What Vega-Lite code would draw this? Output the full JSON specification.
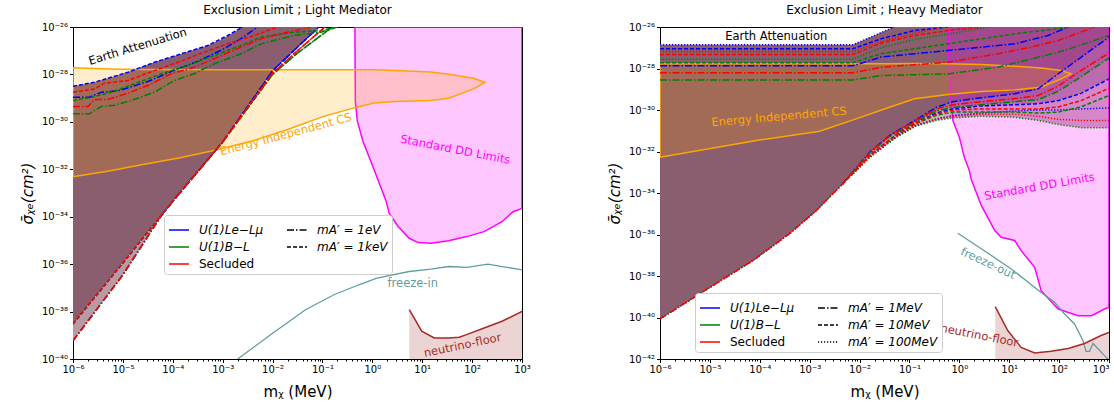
{
  "$schema": "https://vega.github.io/schema/vega-lite/v6.json",
  "padding": {"left": 19, "top": 3, "right": 4, "bottom": 2},
  "bounds": "flush",
  "spacing": 138,
  "config": {
    "font": "DejaVu Sans",
    "view": {"stroke": "black", "strokeWidth": 1},
    "axis": {"grid": false, "domainColor": "black", "tickColor": "black", "labelColor": "black", "labelFont": "DejaVu Sans", "labelFontSize": 10, "titleFont": "DejaVu Sans", "titleFontSize": 15, "titleFontWeight": "normal", "titleColor": "black", "labelOverlap": false, "labelPadding": 2},
    "title": {"font": "DejaVu Sans", "fontSize": 12, "fontWeight": "normal", "color": "black", "offset": 5, "anchor": "middle"},
    "legend": {"fillColor": "white", "strokeColor": "#cccccc", "cornerRadius": 3, "padding": 4, "labelFont": "DejaVu Sans", "labelFontSize": 12, "labelColor": "black", "symbolType": "stroke", "symbolSize": 400, "symbolStrokeWidth": 1.5, "columns": 2, "rowPadding": 0, "columnPadding": 20, "labelOffset": 9, "title": null}
  },
  "datasets": {
    "Ldark": [
      {"x": 1e-6, "y": 3.02e-39, "y2": 3.16e-29},
      {"x": 2.69e-6, "y": 3.8e-38, "y2": 4.68e-29},
      {"x": 1e-5, "y": 1.12e-36, "y2": 1.07e-28},
      {"x": 4.27e-5, "y": 4.9e-35, "y2": 3.24e-28},
      {"x": 1e-4, "y": 4.47e-34, "y2": 5.75e-28},
      {"x": 5.01e-4, "y": 2.51e-32, "y2": 1.66e-27},
      {"x": 1e-3, "y": 1.41e-31, "y2": 3.16e-27},
      {"x": 2.51e-3, "y": 2.24e-30, "y2": 1e-26},
      {"x": 1e-2, "y": 1.41e-28, "y2": 1e-26},
      {"x": 3.16e-2, "y": 1.41e-27, "y2": 1e-26},
      {"x": 8.51e-2, "y": 1e-26, "y2": 1e-26}
    ],
    "Lsliver": [
      {"x": 1e-6, "y": 5.89e-40, "y2": 3.02e-39},
      {"x": 1e-5, "y": 3.55e-37, "y2": 1.12e-36},
      {"x": 5.89e-5, "y": 1.12e-34, "y2": 1.12e-34}
    ],
    "Lorange": [
      {"x": 1e-6, "y": 4.79e-33, "y2": 1.91e-28},
      {"x": 5.25e-6, "y": 8.51e-33, "y2": 1.7e-28},
      {"x": 2.69e-5, "y": 1.62e-32, "y2": 1.62e-28},
      {"x": 1.41e-4, "y": 3.09e-32, "y2": 1.62e-28},
      {"x": 7.41e-4, "y": 6.46e-32, "y2": 1.58e-28},
      {"x": 3.89e-3, "y": 1.55e-31, "y2": 1.58e-28},
      {"x": 2e-2, "y": 4.79e-31, "y2": 1.58e-28},
      {"x": 0.105, "y": 1.7e-30, "y2": 1.58e-28},
      {"x": 0.468, "y": 4.07e-30, "y2": 1.58e-28},
      {"x": 1.07, "y": 6.17e-30, "y2": 1.58e-28},
      {"x": 2.88, "y": 7.24e-30, "y2": 1.45e-28},
      {"x": 14.8, "y": 7.94e-30, "y2": 1.26e-28},
      {"x": 33.9, "y": 1e-29, "y2": 1.02e-28},
      {"x": 107, "y": 2.45e-29, "y2": 6.92e-29},
      {"x": 182, "y": 4.57e-29, "y2": 4.57e-29}
    ],
    "Lmag": [
      {"x": 0.447, "y": 1e-26, "y2": 1e-26},
      {"x": 0.457, "y": 7.24e-30, "y2": 1e-26},
      {"x": 0.501, "y": 1.07e-30, "y2": 1e-26},
      {"x": 0.646, "y": 1.55e-31, "y2": 1e-26},
      {"x": 1.047, "y": 1.17e-32, "y2": 1e-26},
      {"x": 1.479, "y": 1.74e-33, "y2": 1e-26},
      {"x": 1.862, "y": 5.01e-34, "y2": 1e-26},
      {"x": 2.188, "y": 1.38e-34, "y2": 1e-26},
      {"x": 3.311, "y": 3.8e-35, "y2": 1e-26},
      {"x": 5.495, "y": 1.23e-35, "y2": 1e-26},
      {"x": 8.318, "y": 8.13e-36, "y2": 1e-26},
      {"x": 14.79, "y": 7.59e-36, "y2": 1e-26},
      {"x": 33.88, "y": 9.77e-36, "y2": 1e-26},
      {"x": 77.62, "y": 1.45e-35, "y2": 1e-26},
      {"x": 173.8, "y": 2.34e-35, "y2": 1e-26},
      {"x": 398.1, "y": 6.17e-35, "y2": 1e-26},
      {"x": 660.7, "y": 1.62e-34, "y2": 1e-26},
      {"x": 1000, "y": 2.24e-34, "y2": 1e-26}
    ],
    "Lfreeze": [
      {"x": 2e-3, "y": 1e-40},
      {"x": 1.02e-2, "y": 1.26e-39},
      {"x": 4.57e-2, "y": 1.2e-38},
      {"x": 0.17, "y": 5.13e-38},
      {"x": 0.537, "y": 1.35e-37},
      {"x": 1.23, "y": 2.57e-37},
      {"x": 5.5, "y": 4.9e-37},
      {"x": 14.8, "y": 6.17e-37},
      {"x": 33.9, "y": 7.94e-37},
      {"x": 77.6, "y": 7.24e-37},
      {"x": 209, "y": 1e-36},
      {"x": 398, "y": 7.94e-37},
      {"x": 1000, "y": 5.75e-37}
    ],
    "Lnu": [
      {"x": 5.5, "y": 1.2e-38, "y2": 1e-40},
      {"x": 9.77, "y": 1.48e-39, "y2": 1e-40},
      {"x": 17.4, "y": 7.76e-40, "y2": 1e-40},
      {"x": 33.9, "y": 7.76e-40, "y2": 1e-40},
      {"x": 55.0, "y": 8.32e-40, "y2": 1e-40},
      {"x": 77.6, "y": 1.07e-39, "y2": 1e-40},
      {"x": 174, "y": 2.04e-39, "y2": 1e-40},
      {"x": 398, "y": 3.89e-39, "y2": 1e-40},
      {"x": 1000, "y": 1.02e-38, "y2": 1e-40}
    ],
    "Lcurves": [
      {"m": "Le", "d": "m2", "b": "u", "x": 1e-6, "y": 3.16e-29},
      {"m": "Le", "d": "m2", "b": "u", "x": 2.69e-6, "y": 4.68e-29},
      {"m": "Le", "d": "m2", "b": "u", "x": 1.26e-5, "y": 1.23e-28},
      {"m": "Le", "d": "m2", "b": "u", "x": 4.27e-5, "y": 3.24e-28},
      {"m": "Le", "d": "m2", "b": "u", "x": 1.48e-4, "y": 7.41e-28},
      {"m": "Le", "d": "m2", "b": "u", "x": 5.01e-4, "y": 1.66e-27},
      {"m": "Le", "d": "m2", "b": "u", "x": 1.26e-3, "y": 4.37e-27},
      {"m": "Le", "d": "m2", "b": "u", "x": 2.51e-3, "y": 1e-26},
      {"m": "Le", "d": "m1", "b": "u", "x": 1e-6, "y": 1.1e-29},
      {"m": "Le", "d": "m1", "b": "u", "x": 2.14e-6, "y": 1.1e-29},
      {"m": "Le", "d": "m1", "b": "u", "x": 3.72e-6, "y": 1.78e-29},
      {"m": "Le", "d": "m1", "b": "u", "x": 7.94e-6, "y": 2e-29},
      {"m": "Le", "d": "m1", "b": "u", "x": 3.16e-5, "y": 5.01e-29},
      {"m": "Le", "d": "m1", "b": "u", "x": 1e-4, "y": 1.41e-28},
      {"m": "Le", "d": "m1", "b": "u", "x": 3.16e-4, "y": 3.55e-28},
      {"m": "Le", "d": "m1", "b": "u", "x": 1e-3, "y": 1.12e-27},
      {"m": "Le", "d": "m1", "b": "u", "x": 2.51e-3, "y": 3.55e-27},
      {"m": "Le", "d": "m1", "b": "u", "x": 5.01e-3, "y": 1e-26},
      {"m": "Le", "d": "m2", "b": "l", "x": 1e-6, "y": 3.02e-39},
      {"m": "Le", "d": "m2", "b": "l", "x": 1e-5, "y": 1.12e-36},
      {"m": "Le", "d": "m2", "b": "l", "x": 1e-4, "y": 4.47e-34},
      {"m": "Le", "d": "m2", "b": "l", "x": 1e-3, "y": 1.41e-31},
      {"m": "Le", "d": "m2", "b": "l", "x": 1e-2, "y": 1.41e-28},
      {"m": "Le", "d": "m2", "b": "l", "x": 3.16e-2, "y": 1.41e-27},
      {"m": "Le", "d": "m2", "b": "l", "x": 8.51e-2, "y": 1e-26},
      {"m": "Le", "d": "m1", "b": "l", "x": 1e-6, "y": 5.89e-40},
      {"m": "Le", "d": "m1", "b": "l", "x": 1e-5, "y": 3.55e-37},
      {"m": "Le", "d": "m1", "b": "l", "x": 5.89e-5, "y": 1.12e-34},
      {"m": "Le", "d": "m1", "b": "l", "x": 1e-4, "y": 4.47e-34},
      {"m": "Le", "d": "m1", "b": "l", "x": 1e-3, "y": 1.41e-31},
      {"m": "Le", "d": "m1", "b": "l", "x": 1e-2, "y": 1.41e-28},
      {"m": "Le", "d": "m1", "b": "l", "x": 3.16e-2, "y": 1.41e-27},
      {"m": "Le", "d": "m1", "b": "l", "x": 8.51e-2, "y": 1e-26},
      {"m": "BL", "d": "m2", "b": "u", "x": 1e-6, "y": 7.94e-30},
      {"m": "BL", "d": "m2", "b": "u", "x": 2.51e-6, "y": 1.12e-29},
      {"m": "BL", "d": "m2", "b": "u", "x": 5.75e-6, "y": 1.78e-29},
      {"m": "BL", "d": "m2", "b": "u", "x": 1.7e-5, "y": 3.98e-29},
      {"m": "BL", "d": "m2", "b": "u", "x": 5.89e-5, "y": 1.07e-28},
      {"m": "BL", "d": "m2", "b": "u", "x": 2e-4, "y": 2.4e-28},
      {"m": "BL", "d": "m2", "b": "u", "x": 6.76e-4, "y": 6.31e-28},
      {"m": "BL", "d": "m2", "b": "u", "x": 2.34e-3, "y": 1.66e-27},
      {"m": "BL", "d": "m2", "b": "u", "x": 5.89e-3, "y": 3.72e-27},
      {"m": "BL", "d": "m2", "b": "u", "x": 1.26e-2, "y": 4.79e-27},
      {"m": "BL", "d": "m2", "b": "u", "x": 2.69e-2, "y": 6.03e-27},
      {"m": "BL", "d": "m2", "b": "u", "x": 9.33e-2, "y": 7.08e-27},
      {"m": "BL", "d": "m2", "b": "u", "x": 0.186, "y": 1e-26},
      {"m": "BL", "d": "m1", "b": "u", "x": 1e-6, "y": 2.19e-30},
      {"m": "BL", "d": "m1", "b": "u", "x": 2.14e-6, "y": 2.19e-30},
      {"m": "BL", "d": "m1", "b": "u", "x": 3.72e-6, "y": 4.47e-30},
      {"m": "BL", "d": "m1", "b": "u", "x": 6.76e-6, "y": 5.01e-30},
      {"m": "BL", "d": "m1", "b": "u", "x": 1.48e-5, "y": 7.94e-30},
      {"m": "BL", "d": "m1", "b": "u", "x": 4.27e-5, "y": 1.78e-29},
      {"m": "BL", "d": "m1", "b": "u", "x": 1.07e-4, "y": 5.5e-29},
      {"m": "BL", "d": "m1", "b": "u", "x": 2.69e-4, "y": 1.07e-28},
      {"m": "BL", "d": "m1", "b": "u", "x": 6.76e-4, "y": 2.82e-28},
      {"m": "BL", "d": "m1", "b": "u", "x": 2.34e-3, "y": 7.41e-28},
      {"m": "BL", "d": "m1", "b": "u", "x": 5.89e-3, "y": 1.95e-27},
      {"m": "BL", "d": "m1", "b": "u", "x": 2.69e-2, "y": 4.37e-27},
      {"m": "BL", "d": "m1", "b": "u", "x": 9.33e-2, "y": 6.03e-27},
      {"m": "BL", "d": "m1", "b": "u", "x": 0.2, "y": 1e-26},
      {"m": "BL", "d": "m2", "b": "l", "x": 1e-6, "y": 3.02e-39},
      {"m": "BL", "d": "m2", "b": "l", "x": 1e-5, "y": 1.12e-36},
      {"m": "BL", "d": "m2", "b": "l", "x": 1e-4, "y": 4.47e-34},
      {"m": "BL", "d": "m2", "b": "l", "x": 1e-3, "y": 1.41e-31},
      {"m": "BL", "d": "m2", "b": "l", "x": 1e-2, "y": 1e-28},
      {"m": "BL", "d": "m2", "b": "l", "x": 3.16e-2, "y": 7.94e-28},
      {"m": "BL", "d": "m2", "b": "l", "x": 0.158, "y": 1e-26},
      {"m": "BL", "d": "m1", "b": "l", "x": 1e-6, "y": 5.89e-40},
      {"m": "BL", "d": "m1", "b": "l", "x": 1e-5, "y": 3.55e-37},
      {"m": "BL", "d": "m1", "b": "l", "x": 5.89e-5, "y": 1.12e-34},
      {"m": "BL", "d": "m1", "b": "l", "x": 1e-4, "y": 4.47e-34},
      {"m": "BL", "d": "m1", "b": "l", "x": 1e-3, "y": 1.41e-31},
      {"m": "BL", "d": "m1", "b": "l", "x": 1e-2, "y": 1e-28},
      {"m": "BL", "d": "m1", "b": "l", "x": 3.16e-2, "y": 7.94e-28},
      {"m": "BL", "d": "m1", "b": "l", "x": 0.158, "y": 1e-26},
      {"m": "Sec", "d": "m2", "b": "u", "x": 1e-6, "y": 1.78e-29},
      {"m": "Sec", "d": "m2", "b": "u", "x": 2.69e-6, "y": 2.45e-29},
      {"m": "Sec", "d": "m2", "b": "u", "x": 4.27e-6, "y": 4.27e-29},
      {"m": "Sec", "d": "m2", "b": "u", "x": 1.26e-5, "y": 5.5e-29},
      {"m": "Sec", "d": "m2", "b": "u", "x": 4.27e-5, "y": 1.45e-28},
      {"m": "Sec", "d": "m2", "b": "u", "x": 1.26e-4, "y": 3.24e-28},
      {"m": "Sec", "d": "m2", "b": "u", "x": 4.27e-4, "y": 8.71e-28},
      {"m": "Sec", "d": "m2", "b": "u", "x": 1.26e-3, "y": 1.95e-27},
      {"m": "Sec", "d": "m2", "b": "u", "x": 4.27e-3, "y": 4.37e-27},
      {"m": "Sec", "d": "m2", "b": "u", "x": 1.26e-2, "y": 1e-26},
      {"m": "Sec", "d": "m1", "b": "u", "x": 1e-6, "y": 4.47e-30},
      {"m": "Sec", "d": "m1", "b": "u", "x": 2e-6, "y": 4.47e-30},
      {"m": "Sec", "d": "m1", "b": "u", "x": 2.69e-6, "y": 8.71e-30},
      {"m": "Sec", "d": "m1", "b": "u", "x": 5.01e-6, "y": 8.71e-30},
      {"m": "Sec", "d": "m1", "b": "u", "x": 1.26e-5, "y": 1.62e-29},
      {"m": "Sec", "d": "m1", "b": "u", "x": 3.16e-5, "y": 3.39e-29},
      {"m": "Sec", "d": "m1", "b": "u", "x": 9.33e-5, "y": 1.07e-28},
      {"m": "Sec", "d": "m1", "b": "u", "x": 2.69e-4, "y": 2e-28},
      {"m": "Sec", "d": "m1", "b": "u", "x": 7.94e-4, "y": 5.37e-28},
      {"m": "Sec", "d": "m1", "b": "u", "x": 2.34e-3, "y": 1.41e-27},
      {"m": "Sec", "d": "m1", "b": "u", "x": 5.89e-3, "y": 3.16e-27},
      {"m": "Sec", "d": "m1", "b": "u", "x": 2e-2, "y": 6.03e-27},
      {"m": "Sec", "d": "m1", "b": "u", "x": 5.89e-2, "y": 1e-26},
      {"m": "Sec", "d": "m2", "b": "l", "x": 1e-6, "y": 3.02e-39},
      {"m": "Sec", "d": "m2", "b": "l", "x": 1e-5, "y": 1.12e-36},
      {"m": "Sec", "d": "m2", "b": "l", "x": 1e-4, "y": 4.47e-34},
      {"m": "Sec", "d": "m2", "b": "l", "x": 1e-3, "y": 1.41e-31},
      {"m": "Sec", "d": "m2", "b": "l", "x": 1e-2, "y": 1.12e-28},
      {"m": "Sec", "d": "m2", "b": "l", "x": 3.16e-2, "y": 1e-27},
      {"m": "Sec", "d": "m2", "b": "l", "x": 0.112, "y": 1e-26},
      {"m": "Sec", "d": "m1", "b": "l", "x": 1e-6, "y": 5.89e-40},
      {"m": "Sec", "d": "m1", "b": "l", "x": 1e-5, "y": 3.55e-37},
      {"m": "Sec", "d": "m1", "b": "l", "x": 5.89e-5, "y": 1.12e-34},
      {"m": "Sec", "d": "m1", "b": "l", "x": 1e-4, "y": 4.47e-34},
      {"m": "Sec", "d": "m1", "b": "l", "x": 1e-3, "y": 1.41e-31},
      {"m": "Sec", "d": "m1", "b": "l", "x": 1e-2, "y": 1.12e-28},
      {"m": "Sec", "d": "m1", "b": "l", "x": 3.16e-2, "y": 1e-27},
      {"m": "Sec", "d": "m1", "b": "l", "x": 0.112, "y": 1e-26}
    ],
    "Rdark": [
      {"x": 1e-6, "y": 8.51e-41, "y2": 1.38e-27},
      {"x": 8.32e-6, "y": 2.14e-39, "y2": 1.38e-27},
      {"x": 7.24e-5, "y": 5.5e-38, "y2": 1.38e-27},
      {"x": 3.89e-4, "y": 1.07e-36, "y2": 1.38e-27},
      {"x": 1.35e-3, "y": 1.41e-35, "y2": 1.38e-27},
      {"x": 4.57e-3, "y": 2.75e-34, "y2": 1.38e-27},
      {"x": 7.33e-3, "y": 1e-33, "y2": 1.38e-27},
      {"x": 1.585e-2, "y": 8.32e-33, "y2": 3.09e-27},
      {"x": 4.9e-2, "y": 6.92e-32, "y2": 1e-26},
      {"x": 0.135, "y": 2.82e-31, "y2": 1e-26},
      {"x": 0.347, "y": 8.91e-31, "y2": 1e-26},
      {"x": 0.741, "y": 1.32e-30, "y2": 1e-26},
      {"x": 2.754, "y": 1.78e-30, "y2": 1e-26},
      {"x": 12.9, "y": 2.51e-30, "y2": 1e-26},
      {"x": 38, "y": 3.16e-30, "y2": 1e-26},
      {"x": 95.5, "y": 7.94e-30, "y2": 1e-26},
      {"x": 275, "y": 3.98e-29, "y2": 1e-26},
      {"x": 1000, "y": 3.16e-28, "y2": 1e-26}
    ],
    "Rmiddark": [
      {"x": 0.347, "y": 8.91e-31, "y2": 1.35e-30},
      {"x": 0.741, "y": 1.32e-30, "y2": 2.51e-30},
      {"x": 2.754, "y": 1.78e-30, "y2": 3.89e-30},
      {"x": 12.9, "y": 2.51e-30, "y2": 6.03e-30},
      {"x": 38, "y": 3.16e-30, "y2": 1.05e-29},
      {"x": 95.5, "y": 7.94e-30, "y2": 5.5e-29},
      {"x": 275, "y": 3.98e-29, "y2": 3.47e-28},
      {"x": 1000, "y": 3.16e-28, "y2": 3.24e-27}
    ],
    "Rmid": [
      {"x": 4.57e-3, "y": 2.75e-34, "y2": 2.75e-34},
      {"x": 1.585e-2, "y": 6.31e-33, "y2": 8.32e-33},
      {"x": 5.37e-2, "y": 6.31e-32, "y2": 7.94e-32},
      {"x": 0.135, "y": 2.51e-31, "y2": 2.82e-31},
      {"x": 0.347, "y": 7.08e-31, "y2": 8.91e-31},
      {"x": 0.741, "y": 1.12e-30, "y2": 1.32e-30},
      {"x": 2.754, "y": 1.58e-30, "y2": 1.78e-30},
      {"x": 12.9, "y": 1.78e-30, "y2": 2.51e-30},
      {"x": 38, "y": 2e-30, "y2": 3.16e-30},
      {"x": 95.5, "y": 2.82e-30, "y2": 7.94e-30},
      {"x": 275, "y": 6.31e-30, "y2": 3.98e-29},
      {"x": 1000, "y": 3.16e-29, "y2": 3.16e-28}
    ],
    "Rlight": [
      {"x": 4.57e-3, "y": 2.75e-34, "y2": 2.75e-34},
      {"x": 1.585e-2, "y": 5.01e-33, "y2": 6.31e-33},
      {"x": 5.37e-2, "y": 4.68e-32, "y2": 6.31e-32},
      {"x": 0.135, "y": 1.66e-31, "y2": 2.51e-31},
      {"x": 0.347, "y": 3.16e-31, "y2": 7.08e-31},
      {"x": 0.741, "y": 4.17e-31, "y2": 1.12e-30},
      {"x": 2.754, "y": 5.01e-31, "y2": 1.58e-30},
      {"x": 12.9, "y": 4.47e-31, "y2": 1.78e-30},
      {"x": 38, "y": 3.16e-31, "y2": 2e-30},
      {"x": 95.5, "y": 2e-31, "y2": 2.82e-30},
      {"x": 275, "y": 1.41e-31, "y2": 6.31e-30},
      {"x": 1000, "y": 1.38e-31, "y2": 3.16e-29}
    ],
    "Rorange": [
      {"x": 1e-6, "y": 5.25e-33, "y2": 1.7e-28},
      {"x": 8.51e-5, "y": 3.39e-32, "y2": 1.7e-28},
      {"x": 1.58e-3, "y": 9.55e-32, "y2": 1.7e-28},
      {"x": 8.51e-3, "y": 3.72e-31, "y2": 1.7e-28},
      {"x": 3.98e-2, "y": 1.35e-30, "y2": 1.7e-28},
      {"x": 0.126, "y": 3.47e-30, "y2": 1.74e-28},
      {"x": 0.589, "y": 5.62e-30, "y2": 1.7e-28},
      {"x": 2.754, "y": 7.76e-30, "y2": 1.55e-28},
      {"x": 12.9, "y": 9.33e-30, "y2": 1.29e-28},
      {"x": 43.7, "y": 1.26e-29, "y2": 1.07e-28},
      {"x": 110, "y": 3.16e-29, "y2": 7.94e-29},
      {"x": 174, "y": 5.5e-29, "y2": 5.5e-29}
    ],
    "Rmag": [
      {"x": 0.589, "y": 1e-26, "y2": 1e-26},
      {"x": 0.631, "y": 7.94e-29, "y2": 1e-26},
      {"x": 0.692, "y": 2e-30, "y2": 1e-26},
      {"x": 0.741, "y": 3.16e-31, "y2": 1e-26},
      {"x": 1.0, "y": 4.9e-32, "y2": 1e-26},
      {"x": 1.259, "y": 5.25e-33, "y2": 1e-26},
      {"x": 1.585, "y": 1.2e-33, "y2": 1e-26},
      {"x": 1.738, "y": 4.47e-34, "y2": 1e-26},
      {"x": 2.754, "y": 2.51e-35, "y2": 1e-26},
      {"x": 5.129, "y": 1.55e-36, "y2": 1e-26},
      {"x": 6.918, "y": 7.41e-37, "y2": 1e-26},
      {"x": 12.88, "y": 5.13e-37, "y2": 1e-26},
      {"x": 17.38, "y": 1.66e-37, "y2": 1e-26},
      {"x": 32.36, "y": 2.63e-38, "y2": 1e-26},
      {"x": 43.65, "y": 1.95e-39, "y2": 1e-26},
      {"x": 95.5, "y": 2.57e-40, "y2": 1e-26},
      {"x": 239.9, "y": 1.23e-40, "y2": 1e-26},
      {"x": 446.7, "y": 1.23e-40, "y2": 1e-26},
      {"x": 812.8, "y": 2.57e-40, "y2": 1e-26},
      {"x": 1000, "y": 3.09e-40, "y2": 1e-26}
    ],
    "Rfreeze": [
      {"x": 0.933, "y": 1.15e-36},
      {"x": 3.162, "y": 1.66e-37},
      {"x": 10.96, "y": 2.19e-38},
      {"x": 43.65, "y": 1.62e-39},
      {"x": 81.28, "y": 5.37e-40},
      {"x": 128.8, "y": 1.48e-40},
      {"x": 204.2, "y": 4.9e-41},
      {"x": 302, "y": 7.59e-42},
      {"x": 346.7, "y": 2.34e-42},
      {"x": 407.4, "y": 2.34e-42},
      {"x": 478.6, "y": 5.62e-42},
      {"x": 812.8, "y": 1.45e-42},
      {"x": 1000, "y": 8.91e-43}
    ],
    "Rnu": [
      {"x": 5.248, "y": 3.31e-40, "y2": 1e-42},
      {"x": 9.333, "y": 2.34e-41, "y2": 1e-42},
      {"x": 17.38, "y": 3.63e-42, "y2": 1e-42},
      {"x": 32.36, "y": 1.95e-42, "y2": 1e-42},
      {"x": 69.18, "y": 2.34e-42, "y2": 1e-42},
      {"x": 151.4, "y": 3.24e-42, "y2": 1e-42},
      {"x": 323.6, "y": 5.62e-42, "y2": 1e-42},
      {"x": 691.8, "y": 1.35e-41, "y2": 1e-42},
      {"x": 1000, "y": 1.91e-41, "y2": 1e-42}
    ],
    "Rcurves": [
      {"m": "Le", "d": "m3", "b": "u", "x": 1e-6, "y": 1.38e-27},
      {"m": "Le", "d": "m3", "b": "u", "x": 7.33e-3, "y": 1.38e-27},
      {"m": "Le", "d": "m3", "b": "u", "x": 4.9e-2, "y": 1e-26},
      {"m": "Le", "d": "m2", "b": "u", "x": 1e-6, "y": 8.91e-28},
      {"m": "Le", "d": "m2", "b": "u", "x": 7.33e-3, "y": 8.91e-28},
      {"m": "Le", "d": "m2", "b": "u", "x": 2.69e-2, "y": 2.69e-27},
      {"m": "Le", "d": "m2", "b": "u", "x": 0.126, "y": 6.76e-27},
      {"m": "Le", "d": "m2", "b": "u", "x": 0.589, "y": 1e-26},
      {"m": "Le", "d": "m1", "b": "u", "x": 1e-6, "y": 1.35e-28},
      {"m": "Le", "d": "m1", "b": "u", "x": 7.33e-3, "y": 1.35e-28},
      {"m": "Le", "d": "m1", "b": "u", "x": 2.69e-2, "y": 3.55e-28},
      {"m": "Le", "d": "m1", "b": "u", "x": 0.589, "y": 7.41e-28},
      {"m": "Le", "d": "m1", "b": "u", "x": 12.9, "y": 1.55e-27},
      {"m": "Le", "d": "m1", "b": "u", "x": 60.3, "y": 3.89e-27},
      {"m": "Le", "d": "m1", "b": "u", "x": 151, "y": 1e-26},
      {"m": "Le", "d": "m3", "b": "l", "x": 1e-6, "y": 8.51e-41},
      {"m": "Le", "d": "m3", "b": "l", "x": 8.32e-6, "y": 2.14e-39},
      {"m": "Le", "d": "m3", "b": "l", "x": 7.24e-5, "y": 5.5e-38},
      {"m": "Le", "d": "m3", "b": "l", "x": 3.89e-4, "y": 1.07e-36},
      {"m": "Le", "d": "m3", "b": "l", "x": 1.35e-3, "y": 1.41e-35},
      {"m": "Le", "d": "m3", "b": "l", "x": 4.57e-3, "y": 2.75e-34},
      {"m": "Le", "d": "m3", "b": "l", "x": 1.585e-2, "y": 5.25e-33},
      {"m": "Le", "d": "m3", "b": "l", "x": 5.37e-2, "y": 4.9e-32},
      {"m": "Le", "d": "m3", "b": "l", "x": 0.135, "y": 1.78e-31},
      {"m": "Le", "d": "m3", "b": "l", "x": 0.347, "y": 3.72e-31},
      {"m": "Le", "d": "m3", "b": "l", "x": 0.741, "y": 5.37e-31},
      {"m": "Le", "d": "m3", "b": "l", "x": 2.754, "y": 7.08e-31},
      {"m": "Le", "d": "m3", "b": "l", "x": 12.9, "y": 8.91e-31},
      {"m": "Le", "d": "m3", "b": "l", "x": 38, "y": 1e-30},
      {"m": "Le", "d": "m3", "b": "l", "x": 95.5, "y": 1e-30},
      {"m": "Le", "d": "m3", "b": "l", "x": 275, "y": 1.12e-30},
      {"m": "Le", "d": "m3", "b": "l", "x": 1000, "y": 1.26e-30},
      {"m": "Le", "d": "m2", "b": "l", "x": 4.57e-3, "y": 2.75e-34},
      {"m": "Le", "d": "m2", "b": "l", "x": 1.585e-2, "y": 6.31e-33},
      {"m": "Le", "d": "m2", "b": "l", "x": 5.37e-2, "y": 6.31e-32},
      {"m": "Le", "d": "m2", "b": "l", "x": 0.135, "y": 2.51e-31},
      {"m": "Le", "d": "m2", "b": "l", "x": 0.347, "y": 7.08e-31},
      {"m": "Le", "d": "m2", "b": "l", "x": 0.741, "y": 1.12e-30},
      {"m": "Le", "d": "m2", "b": "l", "x": 2.754, "y": 1.58e-30},
      {"m": "Le", "d": "m2", "b": "l", "x": 12.9, "y": 1.78e-30},
      {"m": "Le", "d": "m2", "b": "l", "x": 38, "y": 2e-30},
      {"m": "Le", "d": "m2", "b": "l", "x": 95.5, "y": 2.82e-30},
      {"m": "Le", "d": "m2", "b": "l", "x": 275, "y": 6.31e-30},
      {"m": "Le", "d": "m2", "b": "l", "x": 1000, "y": 3.16e-29},
      {"m": "Le", "d": "m1", "b": "l", "x": 4.57e-3, "y": 2.75e-34},
      {"m": "Le", "d": "m1", "b": "l", "x": 1.585e-2, "y": 9.12e-33},
      {"m": "Le", "d": "m1", "b": "l", "x": 3.98e-2, "y": 5.89e-32},
      {"m": "Le", "d": "m1", "b": "l", "x": 0.135, "y": 3.39e-31},
      {"m": "Le", "d": "m1", "b": "l", "x": 0.347, "y": 1.35e-30},
      {"m": "Le", "d": "m1", "b": "l", "x": 0.741, "y": 2.51e-30},
      {"m": "Le", "d": "m1", "b": "l", "x": 2.754, "y": 3.89e-30},
      {"m": "Le", "d": "m1", "b": "l", "x": 12.9, "y": 6.03e-30},
      {"m": "Le", "d": "m1", "b": "l", "x": 38, "y": 1.05e-29},
      {"m": "Le", "d": "m1", "b": "l", "x": 95.5, "y": 5.5e-29},
      {"m": "Le", "d": "m1", "b": "l", "x": 275, "y": 3.47e-28},
      {"m": "Le", "d": "m1", "b": "l", "x": 1000, "y": 3.24e-27},
      {"m": "BL", "d": "m3", "b": "u", "x": 1e-6, "y": 2.82e-28},
      {"m": "BL", "d": "m3", "b": "u", "x": 7.33e-3, "y": 2.82e-28},
      {"m": "BL", "d": "m3", "b": "u", "x": 2.69e-2, "y": 1e-27},
      {"m": "BL", "d": "m3", "b": "u", "x": 0.126, "y": 2.51e-27},
      {"m": "BL", "d": "m3", "b": "u", "x": 1, "y": 5.62e-27},
      {"m": "BL", "d": "m3", "b": "u", "x": 3.98, "y": 1e-26},
      {"m": "BL", "d": "m2", "b": "u", "x": 1e-6, "y": 1.91e-28},
      {"m": "BL", "d": "m2", "b": "u", "x": 7.33e-3, "y": 1.91e-28},
      {"m": "BL", "d": "m2", "b": "u", "x": 2.69e-2, "y": 5.13e-28},
      {"m": "BL", "d": "m2", "b": "u", "x": 0.589, "y": 1.55e-27},
      {"m": "BL", "d": "m2", "b": "u", "x": 12.9, "y": 4.68e-27},
      {"m": "BL", "d": "m2", "b": "u", "x": 174, "y": 1e-26},
      {"m": "BL", "d": "m1", "b": "u", "x": 1e-6, "y": 2.82e-29},
      {"m": "BL", "d": "m1", "b": "u", "x": 7.33e-3, "y": 2.82e-29},
      {"m": "BL", "d": "m1", "b": "u", "x": 2.69e-2, "y": 4.57e-29},
      {"m": "BL", "d": "m1", "b": "u", "x": 0.589, "y": 5.5e-29},
      {"m": "BL", "d": "m1", "b": "u", "x": 5.89, "y": 1.15e-28},
      {"m": "BL", "d": "m1", "b": "u", "x": 38, "y": 3.47e-28},
      {"m": "BL", "d": "m1", "b": "u", "x": 129, "y": 7.41e-28},
      {"m": "BL", "d": "m1", "b": "u", "x": 1000, "y": 3.89e-27},
      {"m": "BL", "d": "m3", "b": "l", "x": 1e-6, "y": 8.51e-41},
      {"m": "BL", "d": "m3", "b": "l", "x": 8.32e-6, "y": 2.14e-39},
      {"m": "BL", "d": "m3", "b": "l", "x": 7.24e-5, "y": 5.5e-38},
      {"m": "BL", "d": "m3", "b": "l", "x": 3.89e-4, "y": 1.07e-36},
      {"m": "BL", "d": "m3", "b": "l", "x": 1.35e-3, "y": 1.41e-35},
      {"m": "BL", "d": "m3", "b": "l", "x": 4.57e-3, "y": 2.75e-34},
      {"m": "BL", "d": "m3", "b": "l", "x": 1.585e-2, "y": 5.01e-33},
      {"m": "BL", "d": "m3", "b": "l", "x": 5.37e-2, "y": 4.68e-32},
      {"m": "BL", "d": "m3", "b": "l", "x": 0.135, "y": 1.66e-31},
      {"m": "BL", "d": "m3", "b": "l", "x": 0.347, "y": 3.16e-31},
      {"m": "BL", "d": "m3", "b": "l", "x": 0.741, "y": 4.17e-31},
      {"m": "BL", "d": "m3", "b": "l", "x": 2.754, "y": 5.01e-31},
      {"m": "BL", "d": "m3", "b": "l", "x": 12.9, "y": 4.47e-31},
      {"m": "BL", "d": "m3", "b": "l", "x": 38, "y": 3.16e-31},
      {"m": "BL", "d": "m3", "b": "l", "x": 95.5, "y": 2e-31},
      {"m": "BL", "d": "m3", "b": "l", "x": 275, "y": 1.41e-31},
      {"m": "BL", "d": "m3", "b": "l", "x": 1000, "y": 1.38e-31},
      {"m": "BL", "d": "m2", "b": "l", "x": 4.57e-3, "y": 2.75e-34},
      {"m": "BL", "d": "m2", "b": "l", "x": 1.585e-2, "y": 6.03e-33},
      {"m": "BL", "d": "m2", "b": "l", "x": 5.37e-2, "y": 5.62e-32},
      {"m": "BL", "d": "m2", "b": "l", "x": 0.135, "y": 2.19e-31},
      {"m": "BL", "d": "m2", "b": "l", "x": 0.347, "y": 5.62e-31},
      {"m": "BL", "d": "m2", "b": "l", "x": 0.741, "y": 7.94e-31},
      {"m": "BL", "d": "m2", "b": "l", "x": 2.754, "y": 7.94e-31},
      {"m": "BL", "d": "m2", "b": "l", "x": 12.9, "y": 7.94e-31},
      {"m": "BL", "d": "m2", "b": "l", "x": 38, "y": 7.08e-31},
      {"m": "BL", "d": "m2", "b": "l", "x": 95.5, "y": 7.94e-31},
      {"m": "BL", "d": "m2", "b": "l", "x": 275, "y": 1.41e-30},
      {"m": "BL", "d": "m2", "b": "l", "x": 1000, "y": 5.01e-30},
      {"m": "BL", "d": "m1", "b": "l", "x": 4.57e-3, "y": 2.75e-34},
      {"m": "BL", "d": "m1", "b": "l", "x": 1.585e-2, "y": 8.32e-33},
      {"m": "BL", "d": "m1", "b": "l", "x": 3.98e-2, "y": 5.25e-32},
      {"m": "BL", "d": "m1", "b": "l", "x": 0.135, "y": 2.82e-31},
      {"m": "BL", "d": "m1", "b": "l", "x": 0.347, "y": 8.91e-31},
      {"m": "BL", "d": "m1", "b": "l", "x": 0.741, "y": 1.32e-30},
      {"m": "BL", "d": "m1", "b": "l", "x": 2.754, "y": 1.78e-30},
      {"m": "BL", "d": "m1", "b": "l", "x": 12.9, "y": 2.51e-30},
      {"m": "BL", "d": "m1", "b": "l", "x": 38, "y": 3.16e-30},
      {"m": "BL", "d": "m1", "b": "l", "x": 95.5, "y": 7.94e-30},
      {"m": "BL", "d": "m1", "b": "l", "x": 275, "y": 3.98e-29},
      {"m": "BL", "d": "m1", "b": "l", "x": 1000, "y": 3.16e-28},
      {"m": "Sec", "d": "m3", "b": "u", "x": 1e-6, "y": 6.61e-28},
      {"m": "Sec", "d": "m3", "b": "u", "x": 7.33e-3, "y": 6.61e-28},
      {"m": "Sec", "d": "m3", "b": "u", "x": 2.69e-2, "y": 2e-27},
      {"m": "Sec", "d": "m3", "b": "u", "x": 0.126, "y": 5.01e-27},
      {"m": "Sec", "d": "m3", "b": "u", "x": 0.501, "y": 1e-26},
      {"m": "Sec", "d": "m2", "b": "u", "x": 1e-6, "y": 4.68e-28},
      {"m": "Sec", "d": "m2", "b": "u", "x": 7.33e-3, "y": 4.68e-28},
      {"m": "Sec", "d": "m2", "b": "u", "x": 2.69e-2, "y": 1.66e-27},
      {"m": "Sec", "d": "m2", "b": "u", "x": 0.126, "y": 3.89e-27},
      {"m": "Sec", "d": "m2", "b": "u", "x": 0.589, "y": 6.76e-27},
      {"m": "Sec", "d": "m2", "b": "u", "x": 2.754, "y": 1e-26},
      {"m": "Sec", "d": "m1", "b": "u", "x": 1e-6, "y": 6.17e-29},
      {"m": "Sec", "d": "m1", "b": "u", "x": 7.33e-3, "y": 6.17e-29},
      {"m": "Sec", "d": "m1", "b": "u", "x": 2.69e-2, "y": 1.15e-28},
      {"m": "Sec", "d": "m1", "b": "u", "x": 0.589, "y": 2e-28},
      {"m": "Sec", "d": "m1", "b": "u", "x": 5.89, "y": 5.13e-28},
      {"m": "Sec", "d": "m1", "b": "u", "x": 27.5, "y": 1.07e-27},
      {"m": "Sec", "d": "m1", "b": "u", "x": 95.5, "y": 2.24e-27},
      {"m": "Sec", "d": "m1", "b": "u", "x": 513, "y": 1e-26},
      {"m": "Sec", "d": "m3", "b": "l", "x": 4.57e-3, "y": 2.75e-34},
      {"m": "Sec", "d": "m3", "b": "l", "x": 1.585e-2, "y": 5.62e-33},
      {"m": "Sec", "d": "m3", "b": "l", "x": 5.37e-2, "y": 5.25e-32},
      {"m": "Sec", "d": "m3", "b": "l", "x": 0.135, "y": 1.91e-31},
      {"m": "Sec", "d": "m3", "b": "l", "x": 0.347, "y": 3.55e-31},
      {"m": "Sec", "d": "m3", "b": "l", "x": 0.741, "y": 5.01e-31},
      {"m": "Sec", "d": "m3", "b": "l", "x": 2.754, "y": 6.31e-31},
      {"m": "Sec", "d": "m3", "b": "l", "x": 12.9, "y": 6.31e-31},
      {"m": "Sec", "d": "m3", "b": "l", "x": 38, "y": 5.01e-31},
      {"m": "Sec", "d": "m3", "b": "l", "x": 95.5, "y": 3.55e-31},
      {"m": "Sec", "d": "m3", "b": "l", "x": 275, "y": 3.16e-31},
      {"m": "Sec", "d": "m3", "b": "l", "x": 1000, "y": 3.16e-31},
      {"m": "Sec", "d": "m2", "b": "l", "x": 4.57e-3, "y": 2.75e-34},
      {"m": "Sec", "d": "m2", "b": "l", "x": 1.585e-2, "y": 6.31e-33},
      {"m": "Sec", "d": "m2", "b": "l", "x": 5.37e-2, "y": 6.03e-32},
      {"m": "Sec", "d": "m2", "b": "l", "x": 0.135, "y": 2.4e-31},
      {"m": "Sec", "d": "m2", "b": "l", "x": 0.347, "y": 6.31e-31},
      {"m": "Sec", "d": "m2", "b": "l", "x": 0.741, "y": 1e-30},
      {"m": "Sec", "d": "m2", "b": "l", "x": 2.754, "y": 1.12e-30},
      {"m": "Sec", "d": "m2", "b": "l", "x": 12.9, "y": 1.12e-30},
      {"m": "Sec", "d": "m2", "b": "l", "x": 38, "y": 1.12e-30},
      {"m": "Sec", "d": "m2", "b": "l", "x": 95.5, "y": 1.41e-30},
      {"m": "Sec", "d": "m2", "b": "l", "x": 275, "y": 2.82e-30},
      {"m": "Sec", "d": "m2", "b": "l", "x": 1000, "y": 1.12e-29},
      {"m": "Sec", "d": "m1", "b": "l", "x": 1e-6, "y": 8.51e-41},
      {"m": "Sec", "d": "m1", "b": "l", "x": 8.32e-6, "y": 2.14e-39},
      {"m": "Sec", "d": "m1", "b": "l", "x": 7.24e-5, "y": 5.5e-38},
      {"m": "Sec", "d": "m1", "b": "l", "x": 3.89e-4, "y": 1.07e-36},
      {"m": "Sec", "d": "m1", "b": "l", "x": 1.35e-3, "y": 1.41e-35},
      {"m": "Sec", "d": "m1", "b": "l", "x": 4.57e-3, "y": 2.75e-34},
      {"m": "Sec", "d": "m1", "b": "l", "x": 1.585e-2, "y": 8.71e-33},
      {"m": "Sec", "d": "m1", "b": "l", "x": 3.98e-2, "y": 5.62e-32},
      {"m": "Sec", "d": "m1", "b": "l", "x": 0.135, "y": 3.16e-31},
      {"m": "Sec", "d": "m1", "b": "l", "x": 0.347, "y": 1.12e-30},
      {"m": "Sec", "d": "m1", "b": "l", "x": 0.741, "y": 1.78e-30},
      {"m": "Sec", "d": "m1", "b": "l", "x": 2.754, "y": 2.51e-30},
      {"m": "Sec", "d": "m1", "b": "l", "x": 12.9, "y": 3.55e-30},
      {"m": "Sec", "d": "m1", "b": "l", "x": 38, "y": 5.01e-30},
      {"m": "Sec", "d": "m1", "b": "l", "x": 95.5, "y": 1.41e-29},
      {"m": "Sec", "d": "m1", "b": "l", "x": 275, "y": 7.94e-29},
      {"m": "Sec", "d": "m1", "b": "l", "x": 1000, "y": 5.62e-28}
    ]
  },
  "resolve": {"scale": {"color": "independent", "strokeDash": "independent", "x": "independent", "y": "independent"}, "legend": {"color": "independent"}},
  "hconcat": [
    {
      "width": 449,
      "height": 332,
      "title": "Exclusion Limit ; Light Mediator",
      "encoding": {
        "x": {"field": "x", "type": "quantitative", "scale": {"type": "log", "domain": [1e-6, 1000], "nice": false},
          "axis": {"title": "mᵪ (MeV)", "titlePadding": 10, "labelFlush": false,
            "values": [1e-6,2e-6,3e-6,4e-6,5e-6,6e-6,7e-6,8e-6,9e-6,1e-5,2e-5,3e-5,4e-5,5e-5,6e-5,7e-5,8e-5,9e-5,1e-4,2e-4,3e-4,4e-4,5e-4,6e-4,7e-4,8e-4,9e-4,1e-3,2e-3,3e-3,4e-3,5e-3,6e-3,7e-3,8e-3,9e-3,0.01,0.02,0.03,0.04,0.05,0.06,0.07,0.08,0.09,0.1,0.2,0.3,0.4,0.5,0.6,0.7,0.8,0.9,1,2,3,4,5,6,7,8,9,10,20,30,40,50,60,70,80,90,100,200,300,400,500,600,700,800,900,1000],
            "tickSize": {"condition": {"test": "abs(log(datum.value)/LN10 - round(log(datum.value)/LN10)) > 0.01", "value": 2}, "value": 3.5},
            "labelExpr": "abs(log(datum.value)/LN10 - round(log(datum.value)/LN10)) > 0.01 ? '' : '10' + replace(replace(replace(replace(replace(replace(replace(replace(replace(replace(replace(toString(round(log(datum.value)/LN10)), '-', '⁻'), '0', '⁰'), '1', '¹'), '2', '²'), '3', '³'), '4', '⁴'), '5', '⁵'), '6', '⁶'), '7', '⁷'), '8', '⁸'), '9', '⁹')"}},
        "y": {"field": "y", "type": "quantitative", "scale": {"type": "log", "domain": [1e-40, 1e-26], "nice": false},
          "axis": {"title": "σ̄ᵪₑ(cm²)", "titleFontStyle": "italic", "titlePadding": 6, "tickSize": 3.5,
            "values": [1e-40,1e-38,1e-36,1e-34,1e-32,1e-30,1e-28,1e-26],
            "labelExpr": "'10' + replace(replace(replace(replace(replace(replace(replace(replace(replace(replace(replace(toString(round(log(datum.value)/LN10)), '-', '⁻'), '0', '⁰'), '1', '¹'), '2', '²'), '3', '³'), '4', '⁴'), '5', '⁵'), '6', '⁶'), '7', '⁷'), '8', '⁸'), '9', '⁹')"}}
      },
      "layer": [
        {"data": {"name": "Ldark"}, "mark": {"type": "area", "orient": "vertical", "color": "#8a5d6f", "clip": true}, "encoding": {"y2": {"field": "y2"}}},
        {"data": {"name": "Lsliver"}, "mark": {"type": "area", "orient": "vertical", "color": "#b99ba7", "clip": true}, "encoding": {"y2": {"field": "y2"}}},
        {"data": {"name": "Lmag"}, "mark": {"type": "area", "orient": "vertical", "fill": "#ff00ff", "fillOpacity": 0.22, "stroke": "#ff00ff", "strokeWidth": 1.5, "clip": true}, "encoding": {"y2": {"field": "y2"}}},
        {"data": {"name": "Lorange"}, "mark": {"type": "area", "orient": "vertical", "fill": "orange", "fillOpacity": 0.2, "stroke": "orange", "strokeWidth": 1.5, "clip": true}, "encoding": {"y2": {"field": "y2"}}},
        {"data": {"name": "Lnu"}, "mark": {"type": "area", "orient": "vertical", "fill": "#a52a2a", "fillOpacity": 0.2, "clip": true}, "encoding": {"y2": {"field": "y2"}}},
        {"data": {"name": "Lcurves"}, "mark": {"type": "line", "strokeWidth": 1.5, "clip": true},
          "encoding": {
            "color": {"field": "m", "type": "nominal", "scale": {"domain": ["Le", "BL", "Sec", "m1", "m2"], "range": ["#0000ff", "#008000", "#ff0000", "#000000", "#000000"]},
              "legend": {"orient": "none", "legendX": 91, "legendY": 188,
                "labelExpr": "datum.value === 'Le' ? 'U(1)Le−Lμ' : datum.value === 'BL' ? 'U(1)B−L' : datum.value === 'Sec' ? 'Secluded' : datum.value === 'm1' ? 'mA′ = 1eV' : 'mA′ = 1keV'",
                "encode": {"symbols": {"update": {"strokeDash": {"signal": "datum.value === 'm1' ? [7, 2, 1.5, 2] : datum.value === 'm2' ? [4, 2] : datum.value === 'm3' ? [1.2, 1.8] : [1, 0]"}}},
                  "labels": {"update": {"fontStyle": {"signal": "datum.value === 'Sec' ? 'normal' : 'italic'"}}}}}},
            "strokeDash": {"field": "d", "type": "nominal", "scale": {"domain": ["m1", "m2"], "range": [[7, 2, 1.5, 2], [4, 2]]}, "legend": null},
            "detail": {"field": "b"}
          }},
        {"data": {"name": "Lfreeze"}, "mark": {"type": "line", "color": "#5f9ea0", "strokeWidth": 1.3, "clip": true}},
        {"data": {"name": "Lnu"}, "mark": {"type": "line", "color": "#a52a2a", "strokeWidth": 1.5, "clip": true}},
        {"data": {"values": [{"x": 2.0e-5, "y": 1.41e-27, "t": "Earth Attenuation"}]}, "mark": {"type": "text", "angle": -17, "color": "black", "fontSize": 11.5}, "encoding": {"text": {"field": "t"}}},
        {"data": {"values": [{"x": 1.86e-2, "y": 2.75e-31, "t": "Energy Independent CS"}]}, "mark": {"type": "text", "angle": -15, "color": "orange", "fontSize": 11.5}, "encoding": {"text": {"field": "t"}}},
        {"data": {"values": [{"x": 45.7, "y": 6.3e-32, "t": "Standard DD Limits"}]}, "mark": {"type": "text", "angle": 11, "color": "#ff00ff", "fontSize": 11.5}, "encoding": {"text": {"field": "t"}}},
        {"data": {"values": [{"x": 6.46, "y": 1.41e-37, "t": "freeze-in"}]}, "mark": {"type": "text", "angle": 0, "color": "#5f9ea0", "fontSize": 11.5}, "encoding": {"text": {"field": "t"}}},
        {"data": {"values": [{"x": 64.6, "y": 3.55e-40, "t": "neutrino-floor"}]}, "mark": {"type": "text", "angle": -12, "color": "#a52a2a", "fontSize": 11.5}, "encoding": {"text": {"field": "t"}}}
      ]
    },
    {
      "width": 449,
      "height": 332,
      "title": "Exclusion Limit ; Heavy Mediator",
      "encoding": {
        "x": {"field": "x", "type": "quantitative", "scale": {"type": "log", "domain": [1e-6, 1000], "nice": false},
          "axis": {"title": "mᵪ (MeV)", "titlePadding": 10, "labelFlush": false,
            "values": [1e-6,2e-6,3e-6,4e-6,5e-6,6e-6,7e-6,8e-6,9e-6,1e-5,2e-5,3e-5,4e-5,5e-5,6e-5,7e-5,8e-5,9e-5,1e-4,2e-4,3e-4,4e-4,5e-4,6e-4,7e-4,8e-4,9e-4,1e-3,2e-3,3e-3,4e-3,5e-3,6e-3,7e-3,8e-3,9e-3,0.01,0.02,0.03,0.04,0.05,0.06,0.07,0.08,0.09,0.1,0.2,0.3,0.4,0.5,0.6,0.7,0.8,0.9,1,2,3,4,5,6,7,8,9,10,20,30,40,50,60,70,80,90,100,200,300,400,500,600,700,800,900,1000],
            "tickSize": {"condition": {"test": "abs(log(datum.value)/LN10 - round(log(datum.value)/LN10)) > 0.01", "value": 2}, "value": 3.5},
            "labelAlign": {"condition": {"test": "datum.value > 999", "value": "right"}, "value": "center"},
            "labelExpr": "abs(log(datum.value)/LN10 - round(log(datum.value)/LN10)) > 0.01 ? '' : '10' + replace(replace(replace(replace(replace(replace(replace(replace(replace(replace(replace(toString(round(log(datum.value)/LN10)), '-', '⁻'), '0', '⁰'), '1', '¹'), '2', '²'), '3', '³'), '4', '⁴'), '5', '⁵'), '6', '⁶'), '7', '⁷'), '8', '⁸'), '9', '⁹')"}},
        "y": {"field": "y", "type": "quantitative", "scale": {"type": "log", "domain": [1e-42, 1e-26], "nice": false},
          "axis": {"title": "σ̄ᵪₑ(cm²)", "titleFontStyle": "italic", "titlePadding": 6, "tickSize": 3.5,
            "values": [1e-42,1e-40,1e-38,1e-36,1e-34,1e-32,1e-30,1e-28,1e-26],
            "labelExpr": "'10' + replace(replace(replace(replace(replace(replace(replace(replace(replace(replace(replace(toString(round(log(datum.value)/LN10)), '-', '⁻'), '0', '⁰'), '1', '¹'), '2', '²'), '3', '³'), '4', '⁴'), '5', '⁵'), '6', '⁶'), '7', '⁷'), '8', '⁸'), '9', '⁹')"}}
      },
      "layer": [
        {"data": {"name": "Rdark"}, "mark": {"type": "area", "orient": "vertical", "color": "#8a5d6f", "clip": true}, "encoding": {"y2": {"field": "y2"}}},
        {"data": {"name": "Rmiddark"}, "mark": {"type": "area", "orient": "vertical", "color": "#9c7487", "clip": true}, "encoding": {"y2": {"field": "y2"}}},
        {"data": {"name": "Rmid"}, "mark": {"type": "area", "orient": "vertical", "color": "#ab8a9a", "clip": true}, "encoding": {"y2": {"field": "y2"}}},
        {"data": {"name": "Rlight"}, "mark": {"type": "area", "orient": "vertical", "color": "#c8afba", "clip": true}, "encoding": {"y2": {"field": "y2"}}},
        {"data": {"name": "Rmag"}, "mark": {"type": "area", "orient": "vertical", "fill": "#ff00ff", "fillOpacity": 0.22, "stroke": "#ff00ff", "strokeWidth": 1.5, "clip": true}, "encoding": {"y2": {"field": "y2"}}},
        {"data": {"name": "Rorange"}, "mark": {"type": "area", "orient": "vertical", "fill": "orange", "fillOpacity": 0.2, "stroke": "orange", "strokeWidth": 1.5, "clip": true}, "encoding": {"y2": {"field": "y2"}}},
        {"data": {"name": "Rnu"}, "mark": {"type": "area", "orient": "vertical", "fill": "#a52a2a", "fillOpacity": 0.2, "clip": true}, "encoding": {"y2": {"field": "y2"}}},
        {"data": {"name": "Rcurves"}, "mark": {"type": "line", "strokeWidth": 1.5, "clip": true},
          "encoding": {
            "color": {"field": "m", "type": "nominal", "scale": {"domain": ["Le", "BL", "Sec", "m1", "m2", "m3"], "range": ["#0000ff", "#008000", "#ff0000", "#000000", "#000000", "#000000"]},
              "legend": {"orient": "none", "legendX": 35, "legendY": 266,
                "labelExpr": "datum.value === 'Le' ? 'U(1)Le−Lμ' : datum.value === 'BL' ? 'U(1)B−L' : datum.value === 'Sec' ? 'Secluded' : datum.value === 'm1' ? 'mA′ = 1MeV' : datum.value === 'm2' ? 'mA′ = 10MeV' : 'mA′ = 100MeV'",
                "encode": {"symbols": {"update": {"strokeDash": {"signal": "datum.value === 'm1' ? [7, 2, 1.5, 2] : datum.value === 'm2' ? [4, 2] : datum.value === 'm3' ? [1.2, 1.8] : [1, 0]"}}},
                  "labels": {"update": {"fontStyle": {"signal": "datum.value === 'Sec' ? 'normal' : 'italic'"}}}}}},
            "strokeDash": {"field": "d", "type": "nominal", "scale": {"domain": ["m1", "m2", "m3"], "range": [[7, 2, 1.5, 2], [4, 2], [1.2, 1.8]]}, "legend": null},
            "detail": {"field": "b"}
          }},
        {"data": {"name": "Rfreeze"}, "mark": {"type": "line", "color": "#5f9ea0", "strokeWidth": 1.3, "clip": true}},
        {"data": {"name": "Rnu"}, "mark": {"type": "line", "color": "#a52a2a", "strokeWidth": 1.5, "clip": true}},
        {"data": {"values": [{"x": 2.14e-4, "y": 3.47e-27, "t": "Earth Attenuation"}]}, "mark": {"type": "text", "angle": 0, "color": "black", "fontSize": 11.5}, "encoding": {"text": {"field": "t"}}},
        {"data": {"values": [{"x": 2.45e-4, "y": 4.37e-31, "t": "Energy Independent CS"}]}, "mark": {"type": "text", "angle": -5, "color": "orange", "fontSize": 11.5}, "encoding": {"text": {"field": "t"}}},
        {"data": {"values": [{"x": 40.7, "y": 1.9e-34, "t": "Standard DD Limits"}]}, "mark": {"type": "text", "angle": -10, "color": "#ff00ff", "fontSize": 11.5}, "encoding": {"text": {"field": "t"}}},
        {"data": {"values": [{"x": 3.72, "y": 3.8e-38, "t": "freeze-out"}]}, "mark": {"type": "text", "angle": 25, "color": "#5f9ea0", "fontSize": 11.5}, "encoding": {"text": {"field": "t"}}},
        {"data": {"values": [{"x": 2.51, "y": 1.26e-41, "t": "neutrino-floor"}]}, "mark": {"type": "text", "angle": 11, "color": "#a52a2a", "fontSize": 11.5}, "encoding": {"text": {"field": "t"}}}
      ]
    }
  ]
}
